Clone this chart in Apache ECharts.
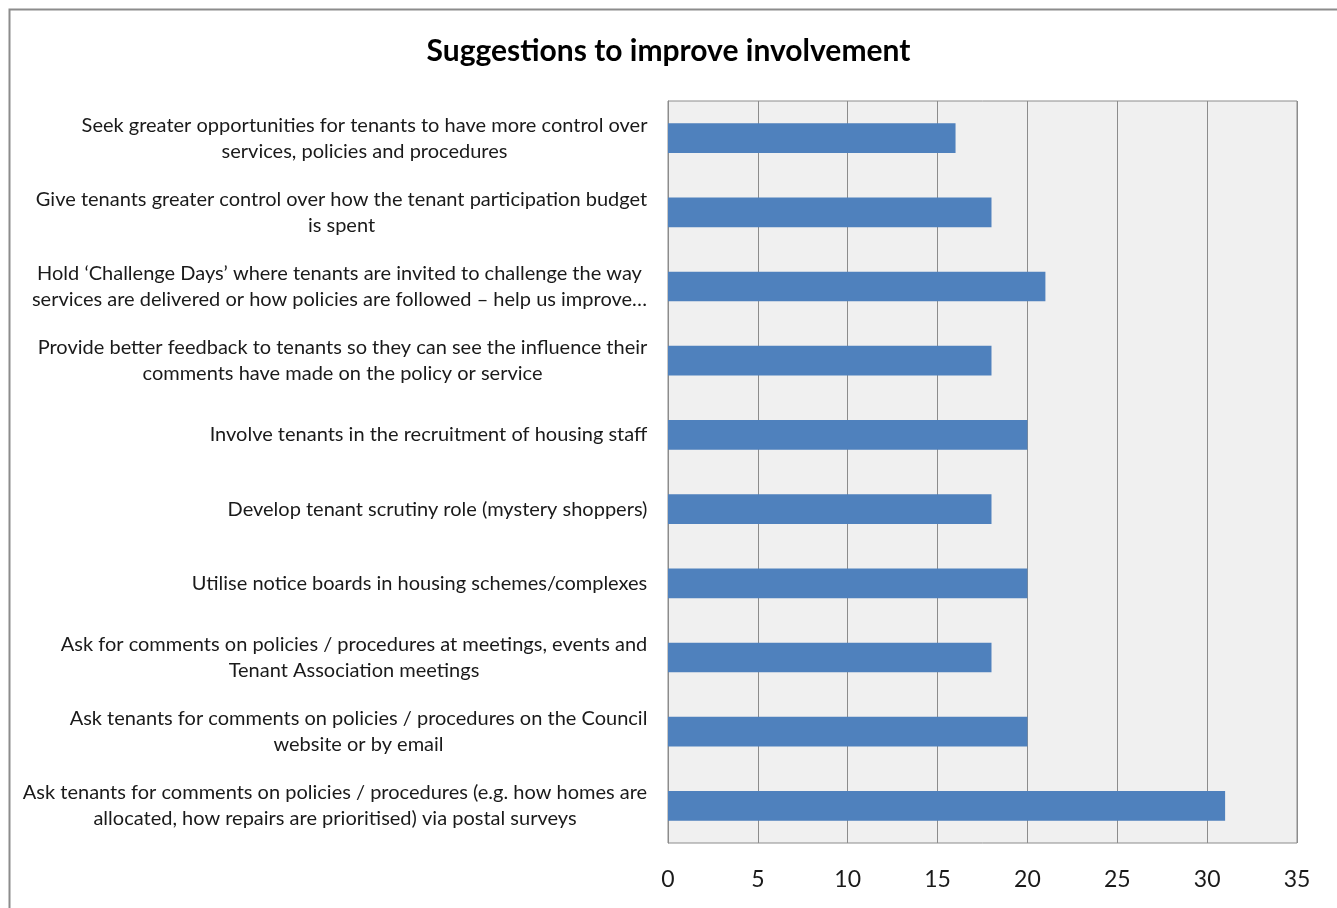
<!DOCTYPE html>
<html>
<head>
<meta charset="utf-8">
<script src="https://cdn.jsdelivr.net/npm/echarts@6/dist/echarts.min.js"></script>
<style>html,body{margin:0;padding:0;background:#fff;}#chart{width:1337px;height:908px;}</style>
</head>
<body>
<div id="chart"></div>
<script>
const chartTitle = 'Suggestions to improve involvement';
const categories = [
  'Seek greater opportunities for tenants to have more control over\nservices, policies and procedures',
  'Give tenants greater control over how the tenant participation budget\nis spent',
  'Hold \u2018Challenge Days\u2019 where tenants are invited to challenge the way\nservices are delivered or how policies are followed \u2013 help us improve\u2026',
  'Provide better feedback to tenants so they can see the influence their\ncomments have made on the policy or service',
  'Involve tenants in the recruitment of housing staff',
  'Develop tenant scrutiny role (mystery shoppers)',
  'Utilise notice boards in housing schemes/complexes',
  'Ask for comments on policies / procedures at meetings, events and\nTenant Association meetings',
  'Ask tenants for comments on policies / procedures on the Council\nwebsite or by email',
  'Ask tenants for comments on policies / procedures (e.g. how homes are\nallocated, how repairs are prioritised) via postal surveys'
];
const values = [16, 18, 21, 18, 20, 18, 20, 18, 20, 31];
const xTicks = [0, 5, 10, 15, 20, 25, 30, 35];

const LABEL_FONT = 'Lato';
const LABEL_SIZE = 20;
const ctx = document.createElement('canvas').getContext('2d');
ctx.font = LABEL_SIZE + 'px ' + LABEL_FONT;
const rich = {};
categories.forEach((c, i) => {
  const w = Math.max(...c.split('\n').map(s => ctx.measureText(s).width));
  rich['c' + i] = {width: Math.ceil(w) + 1, align: 'center', fontFamily: LABEL_FONT, fontSize: LABEL_SIZE, color: '#1a1a1a', lineHeight: 26};
});

const chart = echarts.init(document.getElementById('chart'));
chart.setOption({
  animation: false,
  backgroundColor: '#ffffff',
  title: {
    text: chartTitle, left: 'center', top: 31,
    textStyle: {fontFamily: 'Lato', fontWeight: 'bold', fontSize: 30, color: '#000'}
  },
  graphic: [{
    type: 'rect', left: 7, top: 7, silent: true,
    shape: {width: 1400, height: 1000},
    style: {fill: 'none', stroke: '#8c8c8c', lineWidth: 2}
  }],
  grid: {
    left: 668, right: 40, top: 101, bottom: 65,
    show: true, backgroundColor: '#f0f0f0', borderColor: '#8c8c8c', borderWidth: 1
  },
  xAxis: {
    type: 'value', min: xTicks[0], max: xTicks[xTicks.length - 1], interval: 5,
    axisLine: {show: false}, axisTick: {show: false},
    splitLine: {show: true, lineStyle: {color: '#8c8c8c', width: 1}},
    axisLabel: {margin: 25, fontFamily: 'Lato', fontSize: 23, color: '#1a1a1a'}
  },
  yAxis: {
    type: 'category', data: categories, inverse: true,
    axisLine: {show: true, lineStyle: {color: '#8c8c8c'}}, axisTick: {show: false},
    axisLabel: {
      margin: 20, fontFamily: LABEL_FONT, fontSize: LABEL_SIZE, color: '#1a1a1a', lineHeight: 26,
      formatter: (v, i) => v.split('\n').map(s => '{c' + i + '|' + s + '}').join('\n'),
      rich: rich
    }
  },
  series: [{
    type: 'bar', data: values, barWidth: '40%',
    itemStyle: {color: '#4f81bd'}
  }]
});
</script>
</body>
</html>
